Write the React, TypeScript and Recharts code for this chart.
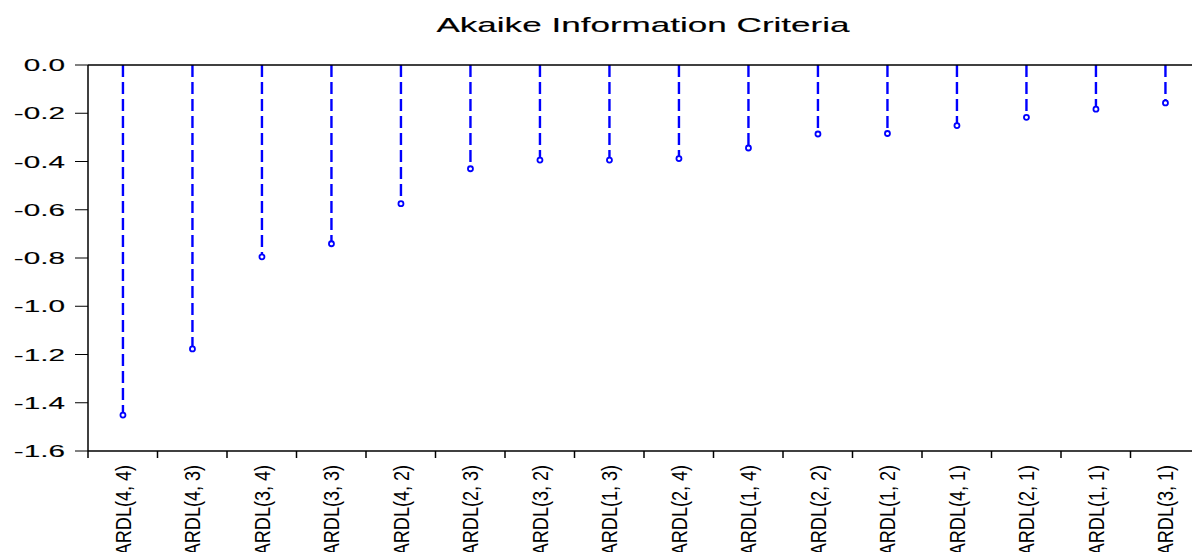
import { BarChart, Bar, XAxis, YAxis, ReferenceLine } from 'recharts'

const models = [
  'ARDL(4, 4)', 'ARDL(4, 3)', 'ARDL(3, 4)', 'ARDL(3, 3)',
  'ARDL(4, 2)', 'ARDL(2, 3)', 'ARDL(3, 2)', 'ARDL(1, 3)',
  'ARDL(2, 4)', 'ARDL(1, 4)', 'ARDL(2, 2)', 'ARDL(1, 2)',
  'ARDL(4, 1)', 'ARDL(2, 1)', 'ARDL(1, 1)', 'ARDL(3, 1)',
]
const aic = [
  -1.451, -1.177, -0.795, -0.741,
  -0.575, -0.430, -0.394, -0.394,
  -0.388, -0.344, -0.286, -0.284,
  -0.251, -0.217, -0.183, -0.157,
]
const yTicks = [0, -0.2, -0.4, -0.6, -0.8, -1.0, -1.2, -1.4, -1.6]

const data = models.map((name, i) => ({ name, aic: aic[i] }))

const BLUE = '#0000ff'
const ARIAL = "'Liberation Sans', Arial, sans-serif"

function Stem(props: any) {
  const { x, y, width, height } = props
  const cx = x + width / 2
  const top = Math.min(y, y + height)
  const bottom = Math.max(y, y + height)
  return (
    <g>
      <line x1={cx} x2={cx} y1={top} y2={bottom - 2} stroke={BLUE} strokeWidth={2.4} strokeDasharray="12 5" />
      <circle cx={cx} cy={bottom} r={2.5} fill="#fff" stroke={BLUE} strokeWidth={1.8} />
    </g>
  )
}

function YTick({ x, y, payload }: any) {
  return (
    <g transform={`translate(${x},${y})`}>
      <text transform="scale(1.75,1)" textAnchor="end" dy="0.36em" fontSize={17} fill="#000"
        stroke="#000" strokeWidth={0.12} fontFamily={ARIAL}>
        {Number(payload.value).toFixed(1)}
      </text>
    </g>
  )
}

function XTick({ x, y, payload }: any) {
  const edge = x - (payload.offset ?? 0)
  return (
    <g>
      <line x1={edge} x2={edge} y1={y} y2={y + 7} stroke="#000" strokeWidth={1.5} />
      <text transform={`translate(${x},${y + 14}) rotate(-90) scale(0.82,1)`} textAnchor="end" dy="0.36em"
        fontSize={22} fill="#000" fontFamily={ARIAL}>
        {payload.value}
      </text>
    </g>
  )
}

export default function App() {
  return (
    <div style={{ position: 'absolute', left: 0, top: 0, width: 1192, height: 552, overflow: 'hidden', background: '#fff' }}>
      <div
        style={{
          position: 'absolute', left: 643, top: 14, fontSize: 21, lineHeight: '21px',
          fontFamily: ARIAL, color: '#000', whiteSpace: 'nowrap',
          WebkitTextStroke: '0.15px #000',
          transform: 'translateX(-50%) scaleX(1.67)',
        }}
      >
        Akaike Information Criteria
      </div>
      <BarChart width={1210} height={552} data={data} margin={{ top: 65, right: 10, left: 0, bottom: 0 }}>
        <XAxis
          dataKey="name"
          height={101}
          interval={0}
          tickLine={false}
          tickSize={0}
          tickMargin={0}
          axisLine={{ stroke: '#000', strokeWidth: 1.5 }}
          tick={<XTick />}
        />
        <YAxis
          width={88}
          domain={[-1.6, 0]}
          ticks={yTicks}
          interval={0}
          tickSize={13}
          tickMargin={10}
          tickLine={{ stroke: '#000', strokeWidth: 1 }}
          axisLine={{ stroke: '#000', strokeWidth: 1.5 }}
          tick={<YTick />}
        />
        <ReferenceLine y={0} stroke="#000" strokeWidth={1.5} />
        <Bar dataKey="aic" shape={<Stem />} isAnimationActive={false} />
      </BarChart>
    </div>
  )
}
